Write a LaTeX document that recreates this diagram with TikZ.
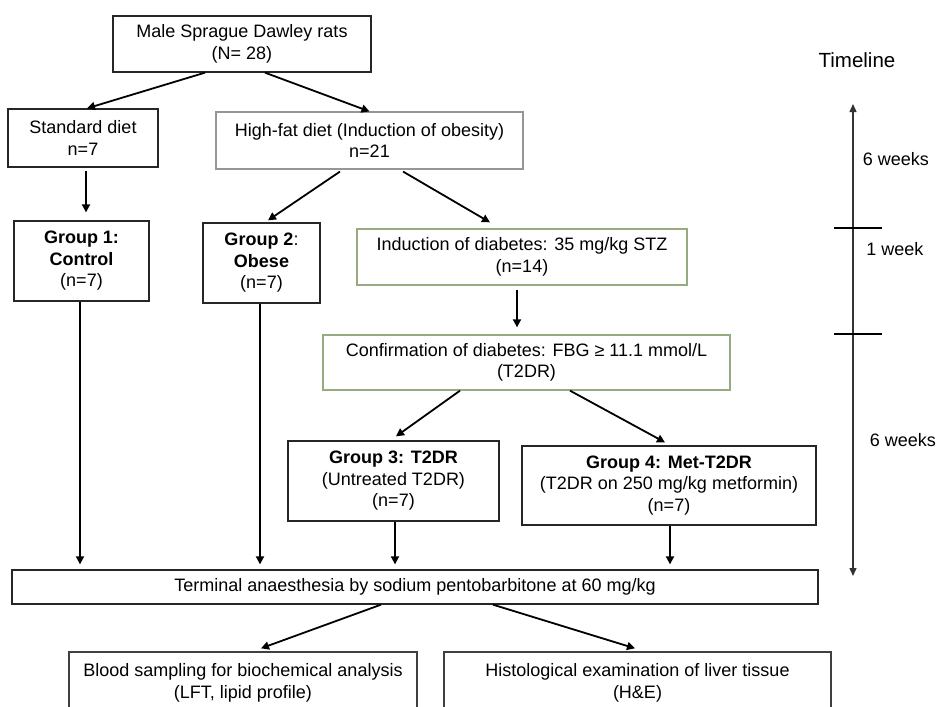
\documentclass[tikz,border=0pt]{standalone}
\usepackage{fontspec}
\setmainfont{Liberation Sans}
\usetikzlibrary{arrows.meta}
\definecolor{boxgreen}{RGB}{150,172,128}
\definecolor{boxgrey}{RGB}{150,150,150}
\begin{document}
\begin{tikzpicture}[x=1pt,y=-1pt,
  box/.style={draw=black!85, line width=1.3pt, rectangle, inner sep=0pt, align=center, font=\fontsize{18}{21.5}\selectfont},
  greybox/.style={box, draw=boxgrey, line width=1.1pt},
  greenbox/.style={box, draw=boxgreen, line width=1.3pt},
  arr/.style={-{Triangle[length=8pt,width=8pt]}, line width=1.8pt},
  tarr/.style={{Triangle[length=8pt,width=7pt]}-{Triangle[length=8pt,width=7pt]}, line width=1.3pt, black!80},
  tick/.style={line width=1.8pt},
  lbl/.style={font=\fontsize{18}{21.5}\selectfont, inner sep=0pt}]
\clip (0,0) rectangle (938,707);
\fill[white] (0,0) rectangle (938,707);
\node [box, minimum width=258pt, minimum height=56pt] (rats) at (242,44) {Male Sprague Dawley rats\\(N= 28)};
\node [box, minimum width=150pt, minimum height=58pt] (std) at (83,138) {Standard diet\\n=7};
\node [greybox, minimum width=307pt, minimum height=57pt] (hfd) at (369.5,140.5) {High-fat diet (Induction of obesity)\\n=21};
\node [box, minimum width=135pt, minimum height=80pt] (g1) at (81.5,261) {\textbf{Group 1:}\\\textbf{Control}\\(n=7)};
\node [box, minimum width=117pt, minimum height=80pt] (g2) at (261.5,263) {\textbf{Group 2}:\\\textbf{Obese}\\(n=7)};
\node [greenbox, minimum width=330pt, minimum height=56pt] (ind) at (522,257) {Induction of diabetes: 35 mg/kg STZ\\(n=14)};
\node [greenbox, minimum width=407pt, minimum height=55pt] (conf) at (526.5,362.5) {Confirmation of diabetes: FBG ≥ 11.1 mmol/L\\(T2DR)};
\node [box, minimum width=211pt, minimum height=80pt] (g3) at (393.5,481) {\textbf{Group 3: T2DR}\\(Untreated T2DR)\\(n=7)};
\node [box, minimum width=294pt, minimum height=79pt] (g4) at (669,485.5) {\textbf{Group 4: Met-T2DR}\\(T2DR on 250 mg/kg metformin)\\(n=7)};
\node [box, minimum width=806pt, minimum height=34pt] (term) at (415,587) {Terminal anaesthesia by sodium pentobarbitone at 60 mg/kg};
\node [box, draw=black!75, minimum width=348pt, minimum height=62pt] (blood) at (243,683) {Blood sampling for biochemical analysis\\(LFT, lipid profile)};
\node [box, draw=black!75, minimum width=387pt, minimum height=62pt] (histo) at (637.5,683) {Histological examination of liver tissue\\(H\&E)};
\draw [arr] ([xshift=-37pt]rats.south) -- ([xshift=4pt]std.north);
\draw [arr] ([xshift=23pt]rats.south) -- (hfd.north);
\draw [arr] ([xshift=3pt,yshift=-3pt]std.south) -- ([xshift=4.5pt,yshift=8pt]g1.north);
\draw [arr] ([xshift=-29.5pt,yshift=-2pt]hfd.south) -- ([xshift=6.5pt,yshift=2pt]g2.north);
\draw [arr] ([xshift=33.5pt,yshift=-2pt]hfd.south) -- ([xshift=-32pt,yshift=6pt]ind.north);
\draw [arr] ([xshift=-5pt,yshift=-4pt]ind.south) -- ([xshift=-9.5pt,yshift=7pt]conf.north);
\draw [arr] ([xshift=-66.5pt]conf.south) -- ([xshift=2.5pt,yshift=4pt]g3.north);
\draw [arr] ([xshift=43.5pt]conf.south) -- ([xshift=-4pt,yshift=3pt]g4.north);
\draw [arr, shorten >=5pt] ([xshift=-1.5pt]g1.south) -- ([xshift=-1.5pt]g1.south |- term.north);
\draw [arr, shorten >=5pt] ([xshift=-1.5pt]g2.south) -- ([xshift=-1.5pt]g2.south |- term.north);
\draw [arr, shorten >=5pt] ([xshift=1.5pt]g3.south) -- ([xshift=1.5pt]g3.south |- term.north);
\draw [arr, shorten >=5pt] ([xshift=1pt]g4.south) -- ([xshift=1pt]g4.south |- term.north);
\draw [arr] ([xshift=-34pt]term.south) -- ([xshift=18pt,yshift=3pt]blood.north);
\draw [arr] ([xshift=78pt]term.south) -- ([xshift=-2.5pt,yshift=3pt]histo.north);
\node [lbl, font=\fontsize{20.5}{24}\selectfont] (tl) at (857,60) {Timeline};
\coordinate (ttop) at (853,104);
\coordinate (tbot) at (853,576);
\draw [tarr] (ttop) -- (tbot);
\draw [tick] (834,228) -- (882,228);
\draw [tick] (834,334) -- (882,334);
\node [lbl] (w1) at (896,159) {6 weeks};
\node [lbl] (w2) at (895,249) {1 week};
\node [lbl] (w3) at (903,440) {6 weeks};
\end{tikzpicture}
\end{document}
